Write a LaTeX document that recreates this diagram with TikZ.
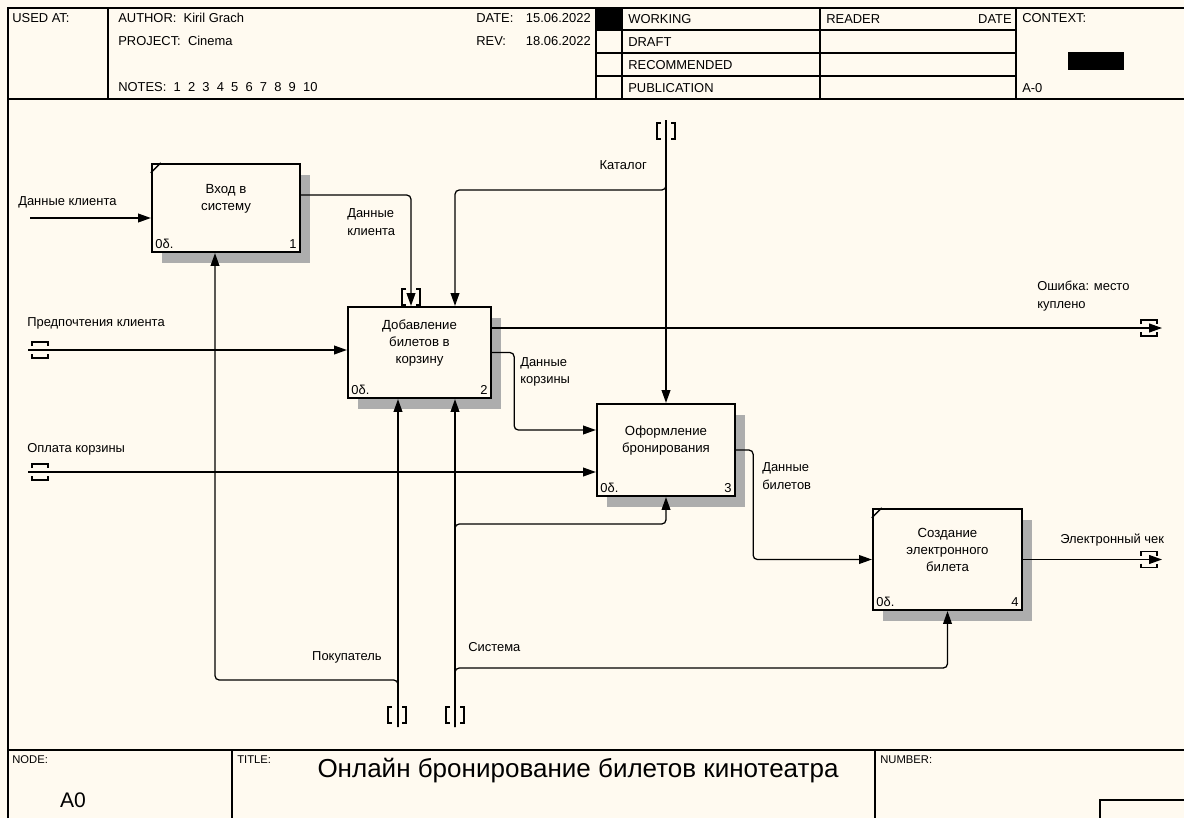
\documentclass[tikz,border=0pt]{standalone}
\usepackage{fontspec}
\setmainfont{Liberation Sans}
\usepackage{xcolor}
\usetikzlibrary{arrows.meta}
\usetikzlibrary{shadows}

\definecolor{paper}{RGB}{255,250,240}

\begin{document}
\begin{tikzpicture}[x=0.025cm, y=-0.025cm, font=\fontsize{9.2}{12.6}\selectfont,
    func/.style={rectangle, draw, line width=1.6pt, fill=paper, inner sep=0pt,
        drop shadow={shadow xshift=0.26cm, shadow yshift=-0.28cm, fill=black!32, opacity=1}},
    ftext/.style={align=center, inner sep=0pt, font=\fontsize{9.4}{12}\selectfont},
    num/.style={inner sep=3pt},
    arr/.style={draw, line width=0.9pt, rounded corners=3pt, -{Triangle[length=0.32cm, width=0.22cm]}},
    lab/.style={anchor=west, align=left, inner sep=0pt},
    tunv/.pic={\draw[line width=0.9pt] (-5,-8) -- (-9,-8) -- (-9,8) -- (-5,8)
        (5,-8) -- (9,-8) -- (9,8) -- (5,8);},
    tunh/.pic={\draw[line width=0.9pt] (-8,-4) -- (-8,-8) -- (8,-8) -- (8,-4)
        (-8,4) -- (-8,8) -- (8,8) -- (8,4);},
    hd/.style={anchor=west, inner sep=0pt},
    frame/.style={line width=0.9pt}]

    \fill[paper] (0,0) rectangle (1184,818);
    \useasboundingbox (0,0) rectangle (1184,818);

    % frame and header
    \draw[frame] (8,818) -- (8,8) -- (1184,8);
    \draw[frame] (8,99) -- (1184,99);
    \draw[frame] (108,8) -- (108,99);
    \draw[frame] (596,8) -- (596,99);
    \draw[frame] (622,8) -- (622,99);
    \draw[frame] (820,8) -- (820,99);
    \draw[frame] (1016,8) -- (1016,99);
    \draw[frame] (596,30) -- (1016,30);
    \draw[frame] (596,53) -- (1016,53);
    \draw[frame] (596,76) -- (1016,76);
    \fill (596,8) rectangle (622,30);
    \fill (1068,52) rectangle (1124,70);

    \node[hd] (usedat) at (12,18) {USED AT:};
    \node[hd] (author) at (118,18) {AUTHOR:\ \ Kiril Grach};
    \node[hd] (project) at (118,41) {PROJECT:\ \ Cinema};
    \node[hd] (notes) at (118,87) {NOTES:\ \ 1\ \ 2\ \ 3\ \ 4\ \ 5\ \ 6\ \ 7\ \ 8\ \ 9\ \ 10};
    \node[hd] (date) at (476,18) {DATE:};
    \node[hd, anchor=east] (dateval) at (591,18) {15.06.2022};
    \node[hd] (rev) at (476,41) {REV:};
    \node[hd, anchor=east] (revval) at (591,41) {18.06.2022};
    \node[hd] (working) at (628,19) {WORKING};
    \node[hd] (draft) at (628,42) {DRAFT};
    \node[hd] (recommended) at (628,65) {RECOMMENDED};
    \node[hd] (publication) at (628,88) {PUBLICATION};
    \node[hd] (reader) at (826,19) {READER};
    \node[hd, anchor=east] (readerdate) at (1012,19) {DATE};
    \node[hd] (context) at (1022,18) {CONTEXT:};
    \node[hd] (ctxnode) at (1022,88) {A-0};

    % footer
    \draw[frame] (8,750) -- (1184,750);
    \draw[frame] (232,750) -- (232,818);
    \draw[frame] (875,750) -- (875,818);
    \draw[frame] (1184,800) -- (1100,800) -- (1100,818);
    \node[hd, font=\fontsize{8}{8}\selectfont] (nodelab) at (12,760) {NODE:};
    \node[inner sep=0pt, font=\fontsize{15}{15}\selectfont] (nodeval) at (73,800) {A0};
    \node[hd, font=\fontsize{8}{8}\selectfont] (titlelab) at (237,760) {TITLE:};
    \node[inner sep=0pt, font=\fontsize{18.5}{18.5}\selectfont] (title) at (578,771) {Онлайн бронирование билетов кинотеатра};
    \node[hd, font=\fontsize{8}{8}\selectfont] (numberlab) at (880,760) {NUMBER:};

    % functions
    \node[func, minimum width=3.7cm, minimum height=2.2cm] (b1) at (226,208) {};
    \node[func, minimum width=3.575cm, minimum height=2.275cm] (b2) at (419.5,352.5) {};
    \node[func, minimum width=3.45cm, minimum height=2.3cm] (b3) at (666,450) {};
    \node[func, minimum width=3.725cm, minimum height=2.525cm] (b4) at (947.5,559.5) {};

    \draw[line width=1pt] ([yshift=-0.25cm]b1.north west) -- ([xshift=0.25cm]b1.north west);
    \draw[line width=1pt] ([yshift=-0.25cm]b4.north west) -- ([xshift=0.25cm]b4.north west);

    \node[ftext] (b1t) at ([yshift=0.24cm]b1.center) {Вход в\\систему};
    \node[ftext] (b2t) at ([yshift=0.24cm]b2.center) {Добавление\\билетов в\\корзину};
    \node[ftext] (b3t) at ([yshift=0.24cm]b3.center) {Оформление\\бронирования};
    \node[ftext] (b4t) at ([yshift=0.24cm]b4.center) {Создание\\электронного\\билета};

    \node[num, anchor=south west] (b1c) at (b1.south west) {0δ.};
    \node[num, anchor=south east] (b1n) at (b1.south east) {1};
    \node[num, anchor=south west] (b2c) at (b2.south west) {0δ.};
    \node[num, anchor=south east] (b2n) at (b2.south east) {2};
    \node[num, anchor=south west] (b3c) at (b3.south west) {0δ.};
    \node[num, anchor=south east] (b3n) at (b3.south east) {3};
    \node[num, anchor=south west] (b4c) at (b4.south west) {0δ.};
    \node[num, anchor=south east] (b4n) at (b4.south east) {4};

    % free ends
    \coordinate (inclient) at (30,218);
    \coordinate (inpref) at (28,350);
    \coordinate (inpay) at (28,472);
    \coordinate (catalog) at (666,120);
    \coordinate (catalogbr) at (666,190);
    \coordinate (outerr) at (1162,328);
    \coordinate (outcheck) at (1162,559.5);
    \coordinate (buyer) at (398,727);
    \coordinate (buyerbr) at (398,680);
    \coordinate (system) at (455,727);
    \coordinate (systembr3) at (455,524);
    \coordinate (systembr4) at (455,668);

    % arrows
    \draw[arr] (inclient) -- (inclient -| b1.west);
    \draw[arr] ([yshift=0.325cm]b1.east) -| ([xshift=-0.2125cm]b2.north);
    \draw[arr] (catalog) -- (b3.north);
    \draw[arr] (catalog) -- (catalogbr) -| ([xshift=0.8875cm]b2.north);
    \draw[arr] (inpref) -- (inpref -| b2.west);
    \draw[arr] (inpay) -- (inpay -| b3.west);
    \draw[arr] (outerr -| b2.east) -- (outerr);
    \draw[arr] (b2.east) -- ++(0.55cm,0) |- ([yshift=0.5cm]b3.west);
    \draw[arr] (b3.east) -- ++(0.425cm,0) |- (b4.west);
    \draw[arr] (b4.east) -- (outcheck);
    \draw[arr] (buyer) -- (buyer |- b2.south);
    \draw[arr] (buyer) -- (buyerbr) -| ([xshift=-0.275cm]b1.south);
    \draw[arr] (system) -- (system |- b2.south);
    \draw[arr] (system) -- (systembr3) -| (b3.south);
    \draw[arr] (system) -- (systembr4) -| (b4.south);

    % tunnels
    \pic (tclient) at (411,297) {tunv};
    \pic (tcatalog) at (666,131) {tunv};
    \pic (tbuyer) at (397,715) {tunv};
    \pic (tsystem) at (455,715) {tunv};
    \pic (tpref) at (40,350) {tunh};
    \pic (tpay) at (40,472) {tunh};
    \pic (terr) at (1149,328) {tunh};
    \pic (tcheck) at (1149,559.5) {tunh};

    % labels
    \node[lab] (lclient) at (18,202) {Данные клиента};
    \node[lab] (lclient2) at (347,222) {Данные\\клиента};
    \node[lab, anchor=east] (lcatalog) at (647,165) {Каталог};
    \node[lab] (lpref) at (27,323) {Предпочтения клиента};
    \node[lab] (lpay) at (27,449) {Оплата корзины};
    \node[lab] (lerr) at (1037,296) {Ошибка: место\\куплено};
    \node[lab] (lcart) at (520,372) {Данные\\корзины};
    \node[lab] (ltickets) at (762,476) {Данные\\билетов};
    \node[lab] (lcheck) at (1060,540) {Электронный чек};
    \node[lab, anchor=east] (lbuyer) at (382,657) {Покупатель};
    \node[lab] (lsystem) at (468,647) {Система};

\end{tikzpicture}
\end{document}
